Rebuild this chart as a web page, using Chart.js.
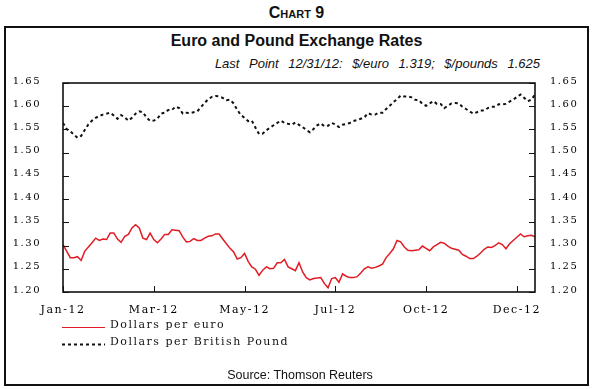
<!DOCTYPE html>
<html>
<head>
<meta charset="utf-8">
<script src="https://cdn.jsdelivr.net/npm/chart.js@4.4.1/dist/chart.umd.min.js"></script>
<style>
  body { margin: 0; background: #fff; }
  #wrap { position: relative; width: 593px; height: 389px; overflow: hidden; }
  #chartNo { position: absolute; left: 0; top: 4px; width: 593px; text-align: center;
    font: bold 16px "Liberation Sans", Arial, sans-serif; font-variant: small-caps; line-height: 18px; color: #111; }
  #frame { position: absolute; left: 4px; top: 26px; width: 581px; height: 356px; border: 2px solid #111; }
  #title { position: absolute; left: 0; top: 32px; width: 593px; text-align: center;
    font: bold 16px "Liberation Sans", Arial, sans-serif; line-height: 18px; color: #111; }
  #sub { position: absolute; right: 53px; top: 56px; white-space: nowrap;
    font: italic 13px "Liberation Sans", Arial, sans-serif; word-spacing: 6px; line-height: 16px; color: #111; }
  #source { position: absolute; left: 0; top: 367px; width: 600px; text-align: center;
    font: 12.5px "Liberation Sans", Arial, sans-serif; line-height: 16px; color: #111; }
  canvas { position: absolute; left: 0; top: 0; }
</style>
</head>
<body>
<div id="wrap">
  <div id="chartNo">Chart 9</div>
  <div id="frame"></div>
  <div id="title">Euro and Pound Exchange Rates</div>
  <div id="sub">Last Point 12/31/12: $/euro 1.319; $/pounds 1.625</div>
  <canvas id="fxChart" width="593" height="389"></canvas>
  <div id="source">Source: Thomson Reuters</div>
</div>
<script>
// trading days of 2012, one reading every 2nd day
const dayStep = 2;
const monthTickDays = [0, 50, 100, 150, 200, 250];
const monthLabels = ['Jan-12', 'Mar-12', 'May-12', 'Jul-12', 'Oct-12', 'Dec-12'];
const rateTicks = [1.20, 1.25, 1.30, 1.35, 1.40, 1.45, 1.50, 1.55, 1.60, 1.65];

// Dollars per euro
const euroRates = [
  1.302, 1.288, 1.274, 1.274, 1.276, 1.268, 1.288, 1.297, 1.306, 1.316,
  1.311, 1.314, 1.313, 1.327, 1.327, 1.314, 1.307, 1.320, 1.324, 1.338,
  1.345, 1.338, 1.316, 1.313, 1.327, 1.313, 1.306, 1.314, 1.324, 1.324,
  1.334, 1.333, 1.332, 1.318, 1.308, 1.309, 1.315, 1.311, 1.311, 1.316,
  1.320, 1.321, 1.325, 1.325, 1.314, 1.304, 1.294, 1.286, 1.271, 1.274,
  1.283, 1.266, 1.254, 1.249, 1.236, 1.247, 1.254, 1.250, 1.251, 1.263,
  1.263, 1.270, 1.254, 1.250, 1.246, 1.263, 1.243, 1.231, 1.226, 1.229,
  1.230, 1.231, 1.218, 1.209, 1.229, 1.231, 1.221, 1.239, 1.234, 1.231,
  1.231, 1.233, 1.241, 1.250, 1.254, 1.251, 1.253, 1.256, 1.260, 1.274,
  1.283, 1.293, 1.311, 1.308, 1.297, 1.290, 1.289, 1.290, 1.291, 1.299,
  1.294, 1.289, 1.297, 1.302, 1.307, 1.305, 1.299, 1.294, 1.292, 1.290,
  1.281, 1.277, 1.272, 1.272, 1.277, 1.284, 1.292, 1.297, 1.296, 1.300,
  1.306, 1.302, 1.293, 1.304, 1.311, 1.318, 1.325, 1.319, 1.321, 1.322,
  1.319
];

// Dollars per British Pound
const poundRates = [
  1.564, 1.551, 1.546, 1.539, 1.532, 1.536, 1.549, 1.561, 1.569, 1.575,
  1.579, 1.582, 1.584, 1.586, 1.580, 1.573, 1.581, 1.576, 1.569, 1.575,
  1.584, 1.589, 1.587, 1.576, 1.568, 1.569, 1.573, 1.584, 1.586, 1.592,
  1.592, 1.599, 1.596, 1.584, 1.586, 1.585, 1.587, 1.589, 1.598, 1.607,
  1.615, 1.620, 1.622, 1.621, 1.618, 1.613, 1.614, 1.606, 1.592, 1.581,
  1.575, 1.568, 1.569, 1.554, 1.540, 1.541, 1.548, 1.554, 1.559, 1.564,
  1.569, 1.564, 1.562, 1.560, 1.565, 1.560, 1.555, 1.549, 1.544, 1.551,
  1.559, 1.563, 1.557, 1.558, 1.564, 1.561, 1.555, 1.560, 1.562, 1.564,
  1.568, 1.570, 1.573, 1.576, 1.585, 1.582, 1.582, 1.586, 1.586, 1.594,
  1.601, 1.609, 1.615, 1.623, 1.621, 1.621, 1.619, 1.614, 1.613, 1.605,
  1.601, 1.606, 1.611, 1.605, 1.605, 1.596, 1.601, 1.606, 1.607, 1.606,
  1.599, 1.594, 1.589, 1.584, 1.587, 1.591, 1.591, 1.596, 1.599, 1.599,
  1.604, 1.604, 1.605, 1.610, 1.614, 1.620, 1.625, 1.618, 1.611, 1.614,
  1.625
];

const toPoints = arr => arr.map((v, i) => ({ x: i * dayStep, y: v }));

const serif = '"DejaVu Serif", "Liberation Serif", serif';
const ink = '#111';

// wide letter spacing of the original print
const spacing = {
  id: 'spacing',
  beforeUpdate(chart) { chart.ctx.letterSpacing = '1.5px'; },
  beforeDraw(chart) { chart.ctx.letterSpacing = '1.5px'; }
};

// plot frame and inward tick marks
const frameTicks = {
  id: 'frameTicks',
  afterDatasetsDraw(chart) {
    const { ctx, chartArea: a, scales } = chart;
    ctx.save();
    ctx.strokeStyle = ink;
    ctx.lineWidth = 1;
    ctx.beginPath();
    scales.y.ticks.forEach(t => {
      const py = Math.round(scales.y.getPixelForValue(t.value)) + 0.5;
      ctx.moveTo(a.left, py); ctx.lineTo(a.left + 6, py);
      ctx.moveTo(a.right, py); ctx.lineTo(a.right - 6, py);
    });
    scales.x.ticks.forEach(t => {
      const px = Math.round(scales.x.getPixelForValue(t.value)) + 0.5;
      ctx.moveTo(px, a.bottom); ctx.lineTo(px, a.bottom - 6);
    });
    ctx.stroke();
    ctx.lineWidth = 1.6;
    ctx.strokeRect(a.left, a.top, a.width, a.height);
    ctx.restore();
  }
};

// legend stacked in two rows under the plot
const legendRows = {
  id: 'legendRows',
  afterDraw(chart) {
    const ctx = chart.ctx;
    chart.data.datasets.forEach((ds, i) => {
      const y = 327 + i * 17;
      ctx.save();
      ctx.strokeStyle = ds.borderColor;
      ctx.lineWidth = i === 0 ? 1 : 2;
      ctx.setLineDash(ds.borderDash || []);
      ctx.beginPath();
      ctx.moveTo(62, y + 0.5);
      ctx.lineTo(105, y + 0.5);
      ctx.stroke();
      ctx.setLineDash([]);
      ctx.fillStyle = ink;
      ctx.font = '11px ' + serif;
      ctx.textBaseline = 'middle';
      ctx.fillText(ds.label, 110, y - 2);
      ctx.restore();
    });
  }
};

const yAxis = (position, padding, width) => ({
  position,
  min: 1.2,
  max: 1.65,
  grid: { display: false },
  border: { display: false },
  afterBuildTicks: s => { s.ticks = rateTicks.map(v => ({ value: v })); },
  afterFit: s => { s.width = width; },
  ticks: {
    padding,
    labelOffset: -2,
    color: '#000',
    font: { family: serif, size: 10 },
    callback: v => v.toFixed(2)
  }
});

new Chart(document.getElementById('fxChart'), {
  type: 'line',
  data: {
    datasets: [
      {
        label: 'Dollars per euro',
        data: toPoints(euroRates),
        borderColor: 'rgb(226, 28, 36)',
        borderWidth: 1.5,
        yAxisID: 'y'
      },
      {
        label: 'Dollars per British Pound',
        data: toPoints(poundRates),
        borderColor: '#111',
        borderWidth: 2,
        borderDash: [3, 3],
        yAxisID: 'y'
      }
    ]
  },
  options: {
    responsive: false,
    animation: false,
    devicePixelRatio: 1,
    layout: { padding: { top: 83, left: 0, right: 0, bottom: 0 } },
    elements: { point: { radius: 0 }, line: { tension: 0 } },
    plugins: { legend: { display: false }, tooltip: { enabled: false } },
    scales: {
      x: {
        type: 'linear',
        min: 0,
        max: 260,
        grid: { display: false },
        border: { display: false },
        afterBuildTicks: s => { s.ticks = monthTickDays.map(v => ({ value: v })); },
        afterFit: s => { s.height = 97; },
        ticks: {
          padding: 4,
          color: '#000',
          maxRotation: 0,
          autoSkip: false,
          font: { family: serif, size: 11 },
          callback: v => monthLabels[monthTickDays.indexOf(v)]
        }
      },
      y: yAxis('left', 14, 63),
      y2: yAxis('right', 7, 58)
    }
  },
  plugins: [spacing, frameTicks, legendRows]
});
</script>
</body>
</html>
